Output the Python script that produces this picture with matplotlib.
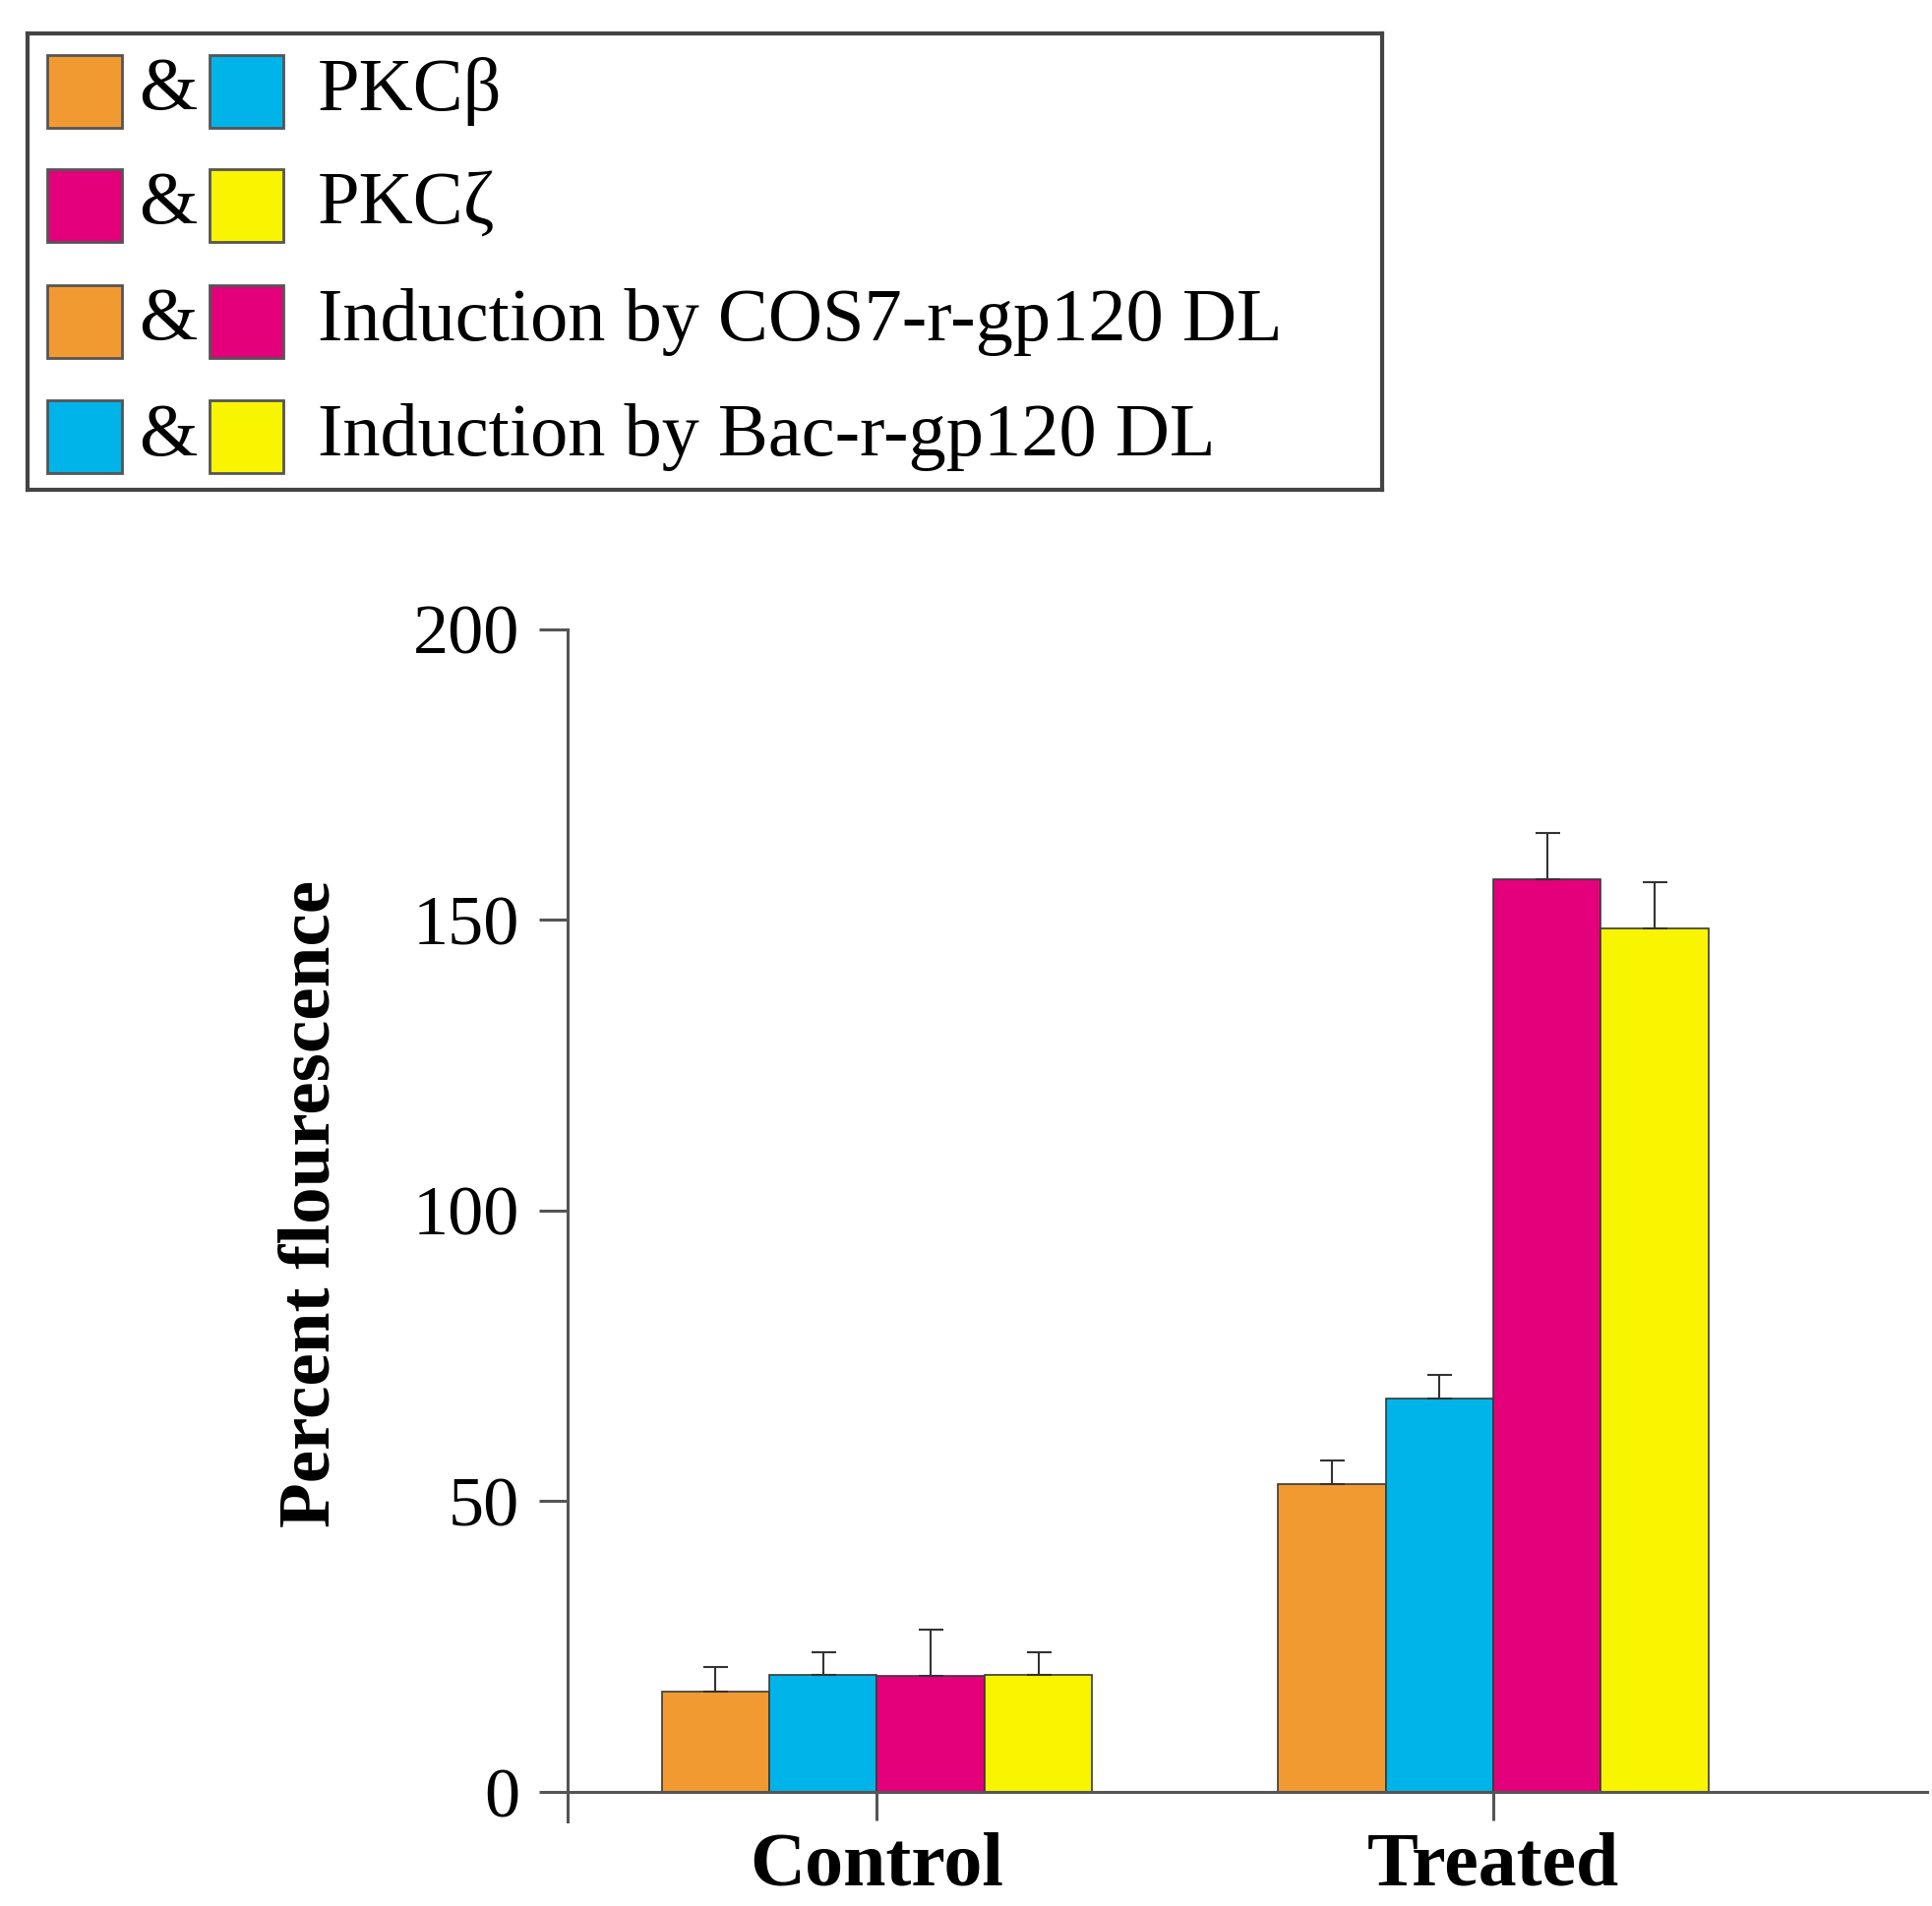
import numpy as np
import matplotlib
matplotlib.use('Agg')
import matplotlib.pyplot as plt
from matplotlib.patches import Rectangle

plt.rcParams['font.family'] = ['Liberation Serif', 'DejaVu Serif']

# dados
grupos = ['Control', 'Treated']
series = ['COS7 PKCβ', 'Bac PKCβ', 'COS7 PKCζ', 'Bac PKCζ']
valores = [
    [17.2, 53.0],   # laranja
    [20.2, 67.6],   # azul
    [20.0, 157.0],  # magenta
    [20.2, 148.5],  # amarelo
]
erros = [
    [4.3, 4.0],
    [3.8, 4.1],
    [8.0, 7.9],
    [3.8, 8.0],
]
cores = ['#F29A32', '#00B4E9', '#E3007A', '#F9F500']
yticks = [0, 50, 100, 150, 200]

legenda_pares = [
    ('#F29A32', '#00B4E9', 'PKCβ'),
    ('#E3007A', '#F9F500', 'PKCζ'),
    ('#F29A32', '#E3007A', 'Induction by COS7-r-gp120 DL'),
    ('#00B4E9', '#F9F500', 'Induction by Bac-r-gp120 DL'),
]

W, H = 1965, 1938
fig = plt.figure(figsize=(W / 100, H / 100), dpi=100)

ax = fig.add_axes([577 / W, 0.0446, 0.7033, 0.6252])
ax.spines['top'].set_visible(False)
ax.spines['right'].set_visible(False)
ax.spines['bottom'].set_position(('data', 0))

x = np.arange(len(grupos))
largura = 0.1746
for i, (vals, errs, cor) in enumerate(zip(valores, erros, cores)):
    pos = x + (i - 1.5) * largura
    ax.bar(pos, vals, largura, color=cor, edgecolor='#3a3a3a', linewidth=1.2, zorder=2)
    ax.errorbar(pos, vals, yerr=[np.zeros(len(errs)), errs], fmt='none',
                ecolor='#333333', elinewidth=1.5, capsize=9, capthick=1.5, zorder=3)

ax.set_xlim(-0.502, 1.704)
ax.set_ylim(-5, 200)
ax.set_yticks(yticks)
ax.set_yticklabels([str(t) for t in yticks], fontsize=52)
ax.set_xticks(x)
ax.set_xticklabels(grupos, fontsize=56, fontweight='bold')
for s in ['left', 'bottom']:
    ax.spines[s].set_color('#555555')
    ax.spines[s].set_linewidth(2.2)
ax.tick_params(axis='both', direction='out', length=21, width=2.2, color='#555555')
ax.tick_params(axis='y', pad=14)
ax.tick_params(axis='x', pad=8)

fig.text(317 / W, 1 - 1224 / H, 'Percent flourescence', rotation=90,
         ha='center', va='center', fontsize=54, fontweight='bold')

# legenda desenhada a mao
lx0, ly0, lx1, ly1 = 28, 34, 1405, 498
leg = fig.add_axes([lx0 / W, 1 - ly1 / H, (lx1 - lx0) / W, (ly1 - ly0) / H])
leg.set_xlim(0, lx1 - lx0)
leg.set_ylim(ly1 - ly0, 0)
leg.set_xticks([])
leg.set_yticks([])
for s in leg.spines.values():
    s.set_color('#444444')
    s.set_linewidth(3)
linhas_y = [59, 175, 293, 410]
for (c1, c2, txt), yc in zip(legenda_pares, linhas_y):
    leg.add_patch(Rectangle((20, yc - 37), 76, 74, facecolor=c1, edgecolor='#555555', linewidth=2))
    leg.add_patch(Rectangle((185, yc - 37), 75, 74, facecolor=c2, edgecolor='#555555', linewidth=2))
    leg.text(143, yc, '&', ha='center', va='center', fontsize=55)
    leg.text(295, yc, txt, ha='left', va='center', fontsize=55)

fig.savefig('out.png', dpi=100)
